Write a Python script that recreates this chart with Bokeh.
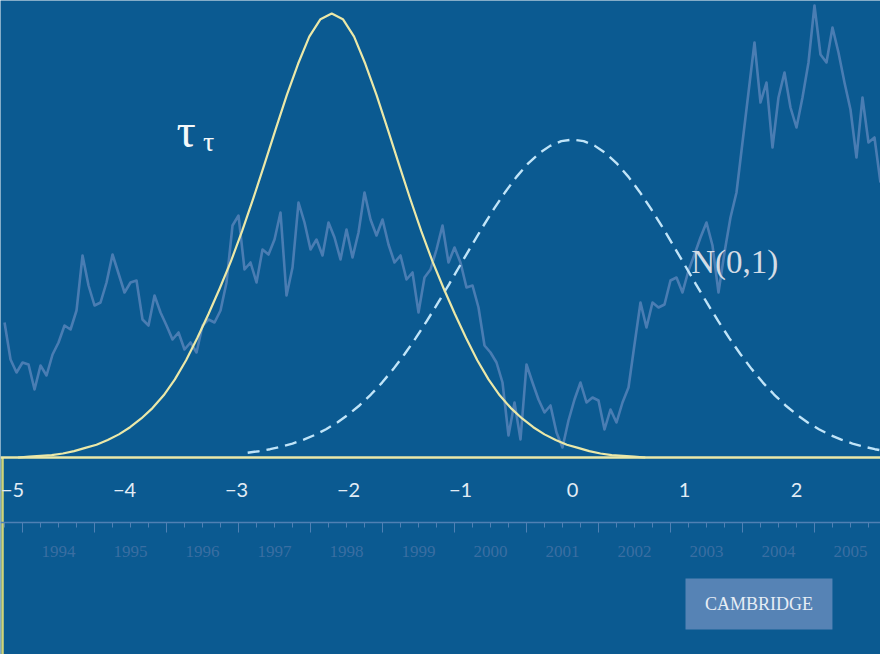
import numpy as np
from bokeh.plotting import figure
from bokeh.models import (Range1d, LinearAxis, FixedTicker, Label, BoxAnnotation,
                          CustomJSTickFormatter)
from bokeh.embed import file_html
from bokeh.resources import INLINE

# ---------------- data ----------------
z_ticks = [-5, -4, -3, -2, -1, 0, 1, 2]

# density of the tau_tau statistic, z from -4.95 in steps of 0.1
tau_start = -4.95
tau_density = [0.000, 0.001, 0.002, 0.003, 0.005, 0.008, 0.012, 0.016, 0.022, 0.029,
               0.038, 0.049, 0.062, 0.078, 0.098, 0.122, 0.150, 0.180, 0.212, 0.246,
               0.284, 0.325, 0.368, 0.412, 0.455, 0.494, 0.528, 0.550, 0.557,
               0.550, 0.528, 0.494, 0.455, 0.412, 0.368, 0.325, 0.284, 0.246, 0.212,
               0.180, 0.150, 0.122, 0.098, 0.078, 0.062, 0.049, 0.038, 0.029, 0.022,
               0.016, 0.012, 0.008, 0.005, 0.003, 0.002, 0.001, 0.000]

# N(0,1) density, z from -2.9 in steps of 0.1
norm_start = -2.9
norm_density = [0.0060, 0.0079, 0.0104, 0.0136, 0.0175, 0.0224, 0.0283, 0.0355, 0.0440,
                0.0540, 0.0656, 0.0790, 0.0940, 0.1109, 0.1295, 0.1497, 0.1714, 0.1942, 0.2179,
                0.2420, 0.2661, 0.2897, 0.3123, 0.3332, 0.3521, 0.3683, 0.3814, 0.3910, 0.3970,
                0.3989,
                0.3970, 0.3910, 0.3814, 0.3683, 0.3521, 0.3332, 0.3123, 0.2897, 0.2661, 0.2420,
                0.2179, 0.1942, 0.1714, 0.1497, 0.1295, 0.1109, 0.0940, 0.0790, 0.0656, 0.0540,
                0.0440, 0.0355, 0.0283, 0.0224, 0.0175, 0.0136, 0.0104, 0.0079]

# background time series (monthly, from Oct 1993), arbitrary level units
series_start = 1993.75
series_level = [270, 233, 220, 230, 228, 203, 227, 217, 238, 250,
                267, 263, 282, 337, 307, 287, 290, 310, 338, 319,
                300, 310, 312, 273, 267, 297, 280, 267, 253, 260,
                243, 250, 240, 267, 273, 270, 282, 310, 367, 377,
                323, 330, 310, 343, 338, 353, 380, 297, 325, 390,
                370, 343, 353, 337, 370, 355, 333, 363, 335, 360,
                400, 373, 357, 373, 348, 330, 337, 313, 320, 280,
                315, 323, 343, 367, 330, 345, 330, 305, 307, 285,
                247, 240, 230, 210, 157, 190, 153, 228, 210, 193,
                180, 187, 160, 145, 172, 193, 210, 190, 195, 192,
                163, 183, 170, 190, 205, 248, 290, 265, 290, 285,
                288, 312, 315, 300, 322, 338, 355, 370, 347, 300,
                340, 375, 400, 450, 500, 550, 490, 510, 445, 495,
                520, 485, 465, 495, 530, 587, 538, 530, 565, 540,
                510, 483, 435, 495, 450, 455, 410]

year_boundaries = list(range(1994, 2006))
year_label_years = list(range(1994, 2006))

# ---------------- derived ----------------
tau_z = tau_start + 0.1 * np.arange(len(tau_density))
norm_z = norm_start + 0.1 * np.arange(len(norm_density))
series_t = series_start + np.arange(len(series_level)) / 12.0
year_minor = [y + q / 4.0 for y in range(1993, 2006) for q in (1, 2, 3)]
year_mid = [y + 0.5 for y in year_label_years]

BG = "#0b5a91"
YELLOW = "#ebe8a8"

xr = Range1d(-5.107, 2.75)
yr = Range1d(-0.2472, 0.5734)

p = figure(width=880, height=654, x_range=xr, y_range=yr,
           x_axis_type=None, y_axis_type=None,
           toolbar_location=None, output_backend="svg", min_border=0)
p.background_fill_color = BG
p.border_fill_color = BG
p.outline_line_color = None
p.grid.visible = False

p.extra_x_ranges = {"years": Range1d(1993.694, 2005.917)}
p.extra_y_ranges = {"level": Range1d(-62, 592)}

# background series
p.line(series_t, series_level, x_range_name="years", y_range_name="level",
       line_color="#5a86bc", line_width=2.6, line_alpha=0.8, line_join="round")

# left vertical rule below the baseline
p.segment(x0=[xr.start + 0.018], y0=[0], x1=[xr.start + 0.018], y1=[yr.start],
          line_color="#d0d47a", line_width=2.5)

# densities
p.line(norm_z, norm_density, line_color="#c0e4f8", line_width=2.4,
       line_dash="12 7")
p.line(tau_z, tau_density, line_color=YELLOW, line_width=2.2, line_join="round")

# z axis along the baseline
zax = LinearAxis(fixed_location=0, ticker=FixedTicker(ticks=z_ticks))
zax.axis_line_color = YELLOW
zax.axis_line_width = 2.5
zax.major_tick_line_color = None
zax.minor_tick_line_color = None
zax.major_label_standoff = 20
zax.major_label_text_color = "#e2ecf5"
zax.major_label_text_font = "Lato"
zax.major_label_text_font_size = "20px"
p.add_layout(zax, "below")

# year ruler
ytick = LinearAxis(x_range_name="years", fixed_location=-0.0816,
                   ticker=FixedTicker(ticks=year_boundaries, minor_ticks=year_minor))
ytick.axis_line_color = "#4f80b4"
ytick.axis_line_width = 1.5
ytick.major_tick_line_color = "#4f80b4"
ytick.minor_tick_line_color = "#4f80b4"
ytick.major_tick_out = 10
ytick.major_tick_in = 0
ytick.minor_tick_out = 5
ytick.minor_tick_in = 0
ytick.major_label_text_alpha = 0
p.add_layout(ytick, "below")

ylab = LinearAxis(x_range_name="years", fixed_location=-0.0816,
                  ticker=FixedTicker(ticks=year_mid),
                  formatter=CustomJSTickFormatter(code="return String(Math.floor(tick));"))
ylab.axis_line_color = None
ylab.major_tick_line_color = None
ylab.minor_tick_line_color = None
ylab.major_label_standoff = 17
ylab.major_label_text_color = "#3a6ea2"
ylab.major_label_text_font = "Liberation Serif"
ylab.major_label_text_font_size = "17px"
p.add_layout(ylab, "below")

# annotations
p.add_layout(Label(x=-3.536, y=0.4103, text="τ", text_color="#f5f8fa",
                   text_font="Liberation Serif", text_font_size="48px",
                   text_baseline="alphabetic"))
p.add_layout(Label(x=-3.30, y=0.3965, text="τ", text_color="#f5f8fa",
                   text_font="Liberation Serif", text_font_size="28px",
                   text_baseline="alphabetic"))
p.add_layout(Label(x=1.06, y=0.2447, text="N(0,1)", text_color="#d3dce6",
                   text_font="Liberation Serif", text_font_size="33px",
                   text_baseline="alphabetic"))

p.add_layout(BoxAnnotation(left=1.009, right=2.321, top=-0.1518, bottom=-0.2158,
                           fill_color="#5683b5", fill_alpha=1.0, line_color=None))
p.add_layout(Label(x=1.665, y=-0.1838, text="CAMBRIDGE", text_color="#e6edf5",
                   text_font="Liberation Serif", text_font_size="18px",
                   text_align="center", text_baseline="middle"))

open("out.html", "w").write(file_html(p, INLINE))
